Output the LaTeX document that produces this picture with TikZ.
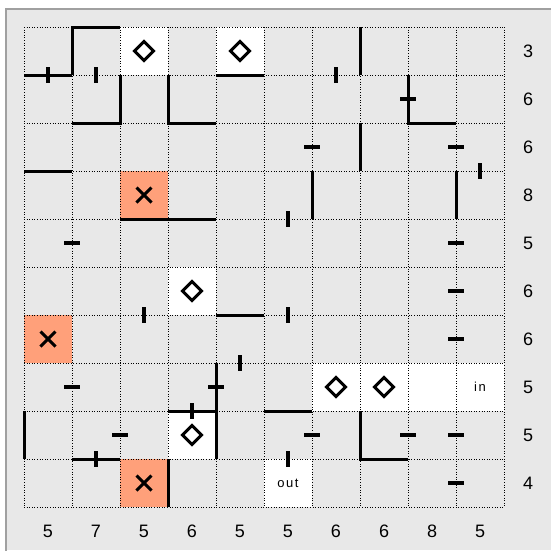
\documentclass[tikz,border=0pt]{standalone}
\usepackage{fontspec}
\setmainfont{Liberation Sans}
\newfontfamily\spacedfont[LetterSpace=12]{Liberation Sans}
\definecolor{bggray}{HTML}{E8E8E8}
\definecolor{framegray}{HTML}{A0A0A0}
\definecolor{salmon}{HTML}{FFA07A}
\tikzset{
  gridline/.style={line width=1pt, dash pattern=on 1pt off 1.6pt, black},
  wall/.style={line width=3pt, black},
  ticks/.style={line width=3.3pt, black},
  symline/.style={line width=3pt, black, line join=miter},
  lab/.style={font=\fontsize{18}{20}\selectfont, inner sep=0pt},
  endtext/.style={font=\spacedfont\fontsize{13}{15}\selectfont, inner sep=0pt}
}
\begin{document}
\begin{tikzpicture}[x=1pt,y=-1pt]
\useasboundingbox (0,0) rectangle (551,550);
\fill[bggray] (6,9) rectangle (551,550);
\draw[framegray, line width=1.5pt] (6,551) -- (6,9) -- (552,9);
\begin{scope}[shift={(24,27)}, x=48pt, y=-48pt]
  % cell fills
  \foreach \c/\r in {2/0,4/0,3/5,6/7,7/7,8/7,9/7,3/8,5/9}
    \fill[white] (\c,\r) rectangle +(1,1);
  \foreach \c/\r in {2/3,0/6,2/9}
    \fill[salmon] (\c,\r) rectangle +(1,1);
  % dotted grid
  \foreach \i in {0,...,10} {
    \draw[gridline] (\i,0) -- (\i,10);
    \draw[gridline] (0,\i) -- (10,\i);
  }
  % walls
  \draw[wall] (0,1) -- (1,1);
  \draw[wall] (1,1) -- (1,0) -- (2,0);
  \draw[wall] (2,1) -- (2,2) -- (1,2);
  \draw[wall] (3,1) -- (3,2) -- (4,2);
  \draw[wall] (4,1) -- (5,1);
  \draw[wall] (7,0) -- (7,1);
  \draw[wall] (8,1) -- (8,2) -- (9,2);
  \draw[wall] (7,2) -- (7,3);
  \draw[wall] (0,3) -- (1,3);
  \draw[wall] (2,4) -- (4,4);
  \draw[wall] (6,3) -- (6,4);
  \draw[wall] (9,3) -- (9,4);
  \draw[wall] (4,6) -- (5,6);
  \draw[wall] (4,7) -- (4,9);
  \draw[wall] (3,8) -- (4,8);
  \draw[wall] (5,8) -- (6,8);
  \draw[wall] (0,8) -- (0,9);
  \draw[wall] (1,9) -- (2,9);
  \draw[wall] (3,9) -- (3,10);
  \draw[wall] (7,8) -- (7,9) -- (8,9);
  % vertical ticks
  \foreach \c/\r in {0.5/1,1.5/1,6.5/1,9.5/3,5.5/4,2.5/6,5.5/6,4.5/7,3.5/8,5.5/9,1.5/9}
    \draw[ticks] (\c,\r-1/6) -- (\c,\r+1/6);
  % horizontal ticks
  \foreach \c/\r in {8/1.5,6/2.5,9/2.5,1/4.5,9/4.5,9/5.5,9/6.5,1/7.5,4/7.5,2/8.5,6/8.5,8/8.5,9/8.5,9/9.5}
    \draw[ticks] (\c-1/6,\r) -- (\c+1/6,\r);
  % diamonds
  \foreach \c/\r in {2/0,4/0,3/5,6/7,7/7,3/8}
    \draw[symline] (\c+0.5,\r+0.5) +(0pt,9.5pt) -- +(9.5pt,0pt) -- +(0pt,-9.5pt) -- +(-9.5pt,0pt) -- cycle;
  % crosses
  \foreach \c/\r in {2/3,0/6,2/9} {
    \draw[symline] (\c+0.5,\r+0.5) +(-7.5pt,-7.5pt) -- +(7.5pt,7.5pt);
    \draw[symline] (\c+0.5,\r+0.5) +(-7.5pt,7.5pt) -- +(7.5pt,-7.5pt);
  }
  % in / out
  \node[endtext] (in) at (9.5,7.5) {in};
  \node[endtext] (out) at (5.5,9.5) {out};
  % row labels
  \foreach \v [count=\k from 0] in {3,6,6,8,5,6,6,5,5,4}
    \node[lab] (row\k) at (10.5,\k+0.5) {\v};
  % column labels
  \foreach \v [count=\k from 0] in {5,7,5,6,5,5,6,6,8,5}
    \node[lab] (col\k) at (\k+0.5,10.5) {\v};
\end{scope}
\end{tikzpicture}
\end{document}
